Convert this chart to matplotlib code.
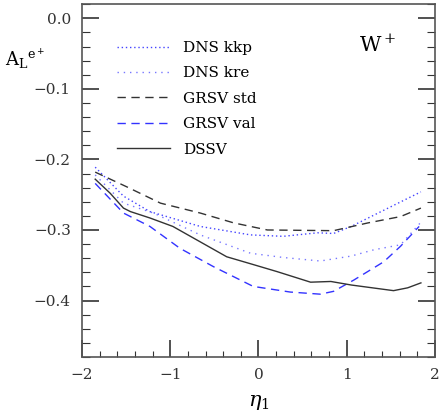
import numpy as np
import matplotlib.pyplot as plt
from matplotlib.ticker import MultipleLocator

plt.rcParams['font.family'] = 'DejaVu Serif'
plt.rcParams['mathtext.fontset'] = 'dejavuserif'

# DNS kkp (blue dotted, upper)
eta_kkp = [-1.85, -1.53, -1.23, -0.66, -0.09, 0.28, 0.67, 0.85, 1.05, 1.42, 1.84]
al_kkp = [-0.211, -0.252, -0.274, -0.295, -0.307, -0.309, -0.304, -0.305, -0.295, -0.272, -0.246]

# DNS kre (blue dotted, lower)
eta_kre = [-1.85, -1.53, -1.19, -0.66, -0.09, 0.28, 0.70, 1.05, 1.31, 1.61, 1.84]
al_kre = [-0.222, -0.262, -0.276, -0.307, -0.333, -0.339, -0.344, -0.337, -0.328, -0.321, -0.289]

# GRSV std (black dashed)
eta_std = [-1.85, -1.49, -1.11, -0.66, -0.28, 0.10, 0.85, 1.24, 1.61, 1.84]
al_std = [-0.218, -0.239, -0.262, -0.276, -0.290, -0.300, -0.301, -0.290, -0.281, -0.269]

# GRSV val (blue dashed)
eta_val = [-1.85, -1.53, -1.23, -0.89, -0.51, -0.06, 0.36, 0.70, 0.85, 1.08, 1.42, 1.61, 1.82]
al_val = [-0.234, -0.276, -0.295, -0.326, -0.352, -0.380, -0.388, -0.391, -0.387, -0.371, -0.345, -0.323, -0.295]

# DSSV (black solid)
eta_dssv = [-1.85, -1.68, -1.53, -1.45, -1.23, -0.97, -0.36, -0.06, 0.21, 0.59, 0.82, 1.05, 1.53, 1.69, 1.84]
al_dssv = [-0.228, -0.248, -0.269, -0.274, -0.283, -0.295, -0.338, -0.349, -0.359, -0.374, -0.373, -0.378, -0.386, -0.382, -0.375]

fig = plt.figure(figsize=(4.43, 4.18), dpi=100)
ax = fig.add_axes([0.185, 0.146, 0.797, 0.844])

ax.plot(eta_kkp, al_kkp, color='#4444ff', lw=1.0, ls=(0, (1, 2)), label='DNS kkp')
ax.plot(eta_kre, al_kre, color='#7777ff', lw=1.0, ls=(0, (1, 3.5)), label='DNS kre')
ax.plot(eta_std, al_std, color='#333333', lw=1.0, ls=(0, (6, 4)), label='GRSV std')
ax.plot(eta_val, al_val, color='#3333ff', lw=1.0, ls=(0, (6, 4)), label='GRSV val')
ax.plot(eta_dssv, al_dssv, color='#333333', lw=1.0, ls='-', label='DSSV')

ax.set_xlim(-2, 2)
ax.set_ylim(-0.48, 0.02)
ax.xaxis.set_minor_locator(MultipleLocator(0.2))
ax.yaxis.set_minor_locator(MultipleLocator(0.02))
ax.set_xticks([-2, -1, 0, 1, 2])
ax.set_xticklabels(['\u22122', '\u22121', '0', '1', '2'])
ax.set_yticks([0.0, -0.1, -0.2, -0.3, -0.4])
ax.set_yticklabels(['0.0', '\u22120.1', '\u22120.2', '\u22120.3', '\u22120.4'])

ax.tick_params(axis='both', which='both', direction='in', top=False, right=True,
               labelsize=11, colors='#333333', pad=8)
ax.tick_params(axis='both', which='major', length=12.5, width=1.2)
ax.tick_params(axis='y', which='minor', length=6, width=0.8)
ax.tick_params(axis='x', which='minor', length=4, width=0.8)
for s in ax.spines.values():
    s.set_color('#555555')
    s.set_linewidth(1.2)

ax.set_xlabel(r'$\eta_1$', fontsize=15, labelpad=8)
fig.text(0.012, 0.858, r'$\mathrm{A_L}^{\mathrm{e}^+}$', fontsize=13, ha='left', va='center')
ax.text(0.838, 0.885, r'$\mathrm{W}^+$', transform=ax.transAxes, fontsize=15, ha='center', va='center')

ax.legend(loc='upper left', bbox_to_anchor=(0.06, 0.935), frameon=False, fontsize=11,
          handlelength=3.5, handletextpad=0.85, labelspacing=0.75)

fig.savefig('out.png', dpi=100)
